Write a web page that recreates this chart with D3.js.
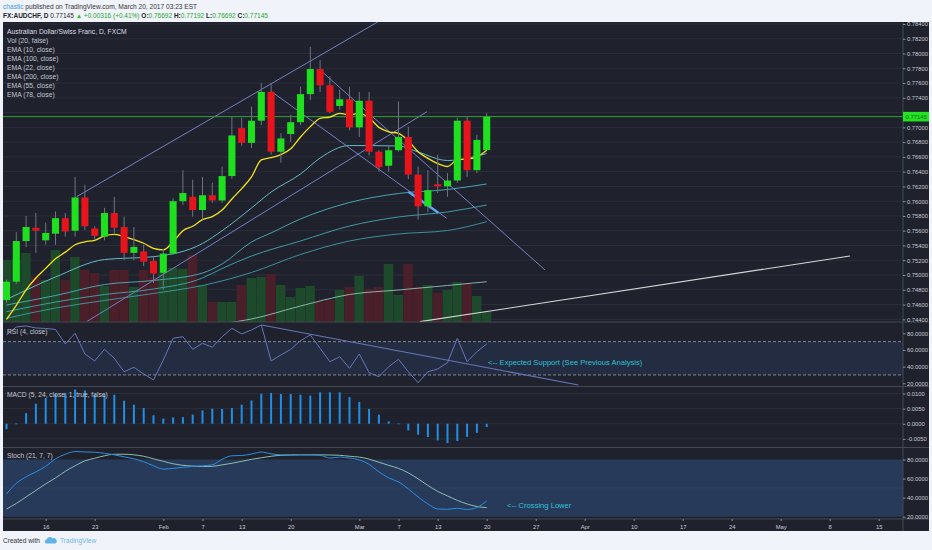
<!DOCTYPE html>
<html><head><meta charset="utf-8">
<script src="https://cdn.jsdelivr.net/npm/d3@7"></script>
<style>
body{margin:0;background:#f0f3fa;}
svg{display:block;}
text{font-family:"Liberation Sans",Arial,sans-serif;}
</style>
</head><body>
<svg id="c" width="932" height="550"></svg>
<script>
// ---------- DATA ----------
const opens  = [0.7466,0.7491,0.7546,0.7564,0.7547,0.7556,0.7577,0.7560,0.7605,0.7563,0.7552,0.7584,0.7565,0.7530,0.7532,0.7519,0.7503,0.7529,0.7600,0.7606,0.7588,0.7608,0.7601,0.7634,0.7699,0.7679,0.7709,0.7748,0.7667,0.7691,0.7707,0.7745,0.7779,0.7757,0.7729,0.7738,0.7700,0.7736,0.7667,0.7648,0.7669,0.7687,0.7636,0.7593,0.7623,0.7620,0.7628,0.7709,0.7642,0.76692];
const highs  = [0.7494,0.7558,0.7580,0.7584,0.7571,0.7586,0.7584,0.7633,0.7622,0.7566,0.7591,0.7606,0.7579,0.7565,0.7541,0.7525,0.7535,0.7604,0.7642,0.7629,0.7633,0.7625,0.7647,0.7714,0.7713,0.7728,0.7760,0.7760,0.7692,0.7717,0.7755,0.7809,0.7791,0.7769,0.7751,0.7755,0.7748,0.7748,0.7669,0.7676,0.7735,0.7701,0.7647,0.7642,0.7663,0.7638,0.7713,0.7714,0.7690,0.77192];
const lows   = [0.7462,0.7488,0.7538,0.7530,0.7541,0.7541,0.7552,0.7552,0.7561,0.7548,0.7547,0.7557,0.7520,0.7520,0.7512,0.7489,0.7480,0.7527,0.7595,0.7579,0.7575,0.7598,0.7598,0.7630,0.7675,0.7672,0.7703,0.7663,0.7652,0.7680,0.7703,0.7737,0.7748,0.7719,0.7724,0.7696,0.7687,0.7662,0.7640,0.7640,0.7667,0.7630,0.7575,0.7585,0.7611,0.7606,0.7625,0.7633,0.7638,0.76692];
const closes = [0.7491,0.7546,0.7565,0.7560,0.7557,0.7577,0.7559,0.7605,0.7566,0.7553,0.7584,0.7564,0.7530,0.7538,0.7518,0.7502,0.7529,0.7600,0.7611,0.7588,0.7608,0.7601,0.7634,0.7689,0.7679,0.7709,0.7748,0.7667,0.7685,0.7707,0.7745,0.7779,0.7757,0.7721,0.7738,0.7700,0.7736,0.7667,0.7646,0.7669,0.7687,0.7636,0.7593,0.7615,0.7620,0.7628,0.7709,0.7642,0.7683,0.77145];
const volumes = [62,62,69,45,42,72,42,65,52,49,36,52,52,35,52,45,49,54,53,67,37,20,20,20,37,44,45,48,37,25,34,36,20,22,32,35,46,33,35,58,27,58,35,37,29,32,40,39,26,10];

const ema10 = [0.7440,0.7459,0.7480,0.7496,0.7509,0.7522,0.7531,0.7541,0.7545,0.7547,0.7553,0.7555,0.7552,0.7548,0.7543,0.7536,0.7534,0.7545,0.7560,0.7566,0.7575,0.7579,0.7588,0.7603,0.7617,0.7633,0.7656,0.7659,0.7663,0.7671,0.7687,0.7701,0.7712,0.7714,0.7719,0.7717,0.7719,0.7713,0.7700,0.7694,0.7692,0.7682,0.7667,0.7658,0.7651,0.7647,0.7656,0.7657,0.7660,0.7669];
const ema22Idx = [0,5,10,15,20,22,25,27,30,32,35,40,42,45,49];
const ema22    = [0.74668,0.74973,0.75210,0.75248,0.75427,0.75600,0.75908,0.76124,0.76368,0.76585,0.76754,0.76748,0.76666,0.76551,0.76646];
const ema55Idx = [0,5,10,15,20,22,25,27,30,35,40,45,49];
const ema55    = [0.74594,0.74722,0.74871,0.74926,0.75027,0.75149,0.75447,0.75570,0.75759,0.75982,0.76104,0.76158,0.76233];
const ema78Idx = [0,5,10,15,20,22,25,30,35,40,45,49];
const ema78    = [0.74503,0.74634,0.74736,0.74810,0.74960,0.75088,0.75257,0.75461,0.75664,0.75786,0.75854,0.75948];
const ema100Idx = [0,5,10,15,20,25,30,35,40,45,49];
const ema100    = [0.74414,0.74553,0.74655,0.74750,0.74858,0.75034,0.75278,0.75461,0.75556,0.75603,0.75722];
const ema200Idx = [22,25,30,35,40,45,49];
const ema200    = [0.74340,0.74404,0.74580,0.74736,0.74797,0.74858,0.74909];

const rsi = [78,87.6,88.8,86.4,85.8,84.6,67.2,80,55.2,46.8,60.8,50,33.9,39.2,31.2,24,48,74,75.9,60.8,68,63.2,75.9,86,79.2,84,90,46.8,54,60.8,71.1,78,62,45.9,51.9,38,55.2,32.7,27.9,39.9,48.8,33.9,20.7,33.9,37.2,44.7,74,45.9,57.9,67.2];
const macdHist = [-0.0018,0.0001,0.0035,0.0066,0.0085,0.0099,0.0102,0.0113,0.0110,0.0096,0.0096,0.0096,0.0076,0.0063,0.0052,0.0028,0.0017,0.0021,0.0022,0.0030,0.0044,0.0050,0.0049,0.0052,0.0063,0.0077,0.0099,0.0102,0.0098,0.0098,0.0096,0.0093,0.0104,0.0104,0.0104,0.0088,0.0072,0.0049,0.0030,0.0008,0.0001,-0.0022,-0.0036,-0.0044,-0.0055,-0.0064,-0.0057,-0.0043,-0.0030,-0.0011];
const stochK = [43.9,55,61.8,67,72.8,80.7,85.5,88.4,87.9,87.6,86.5,84.9,82.8,80.7,77.6,73.4,69.9,70.7,71.8,72.8,73.4,74.4,80.2,83.9,84.2,85.7,87.8,86,84.9,84.9,84.9,84.9,84.4,81.5,82.5,81.5,79.7,74.9,67,60.7,56.5,49.2,40.7,33.4,28.1,27.8,28.8,27.6,29.7,36.5];
const stochD = [28.1,33.9,40.7,47.6,54.4,60.7,67.6,73.4,78.6,81.3,83.9,85.5,85.5,84.9,83.4,80.7,78.1,75.5,73.9,73.1,72.6,72.8,74.4,76,78.1,80.2,81.8,83.4,84.4,84.7,84.9,84.9,84.9,84.7,84.4,83.4,82.5,80.4,77.1,73.9,70.7,66,59.7,52.8,46.5,41.8,37.1,33.4,30.7,29.5];

// drawings: [barIndex, value]
const priceTrends = [
  [[7.16,0.76061],[38.1,0.78445]],
  [[8.18,0.74368],[42.9,0.77212]],
  [[32.0,0.77777],[54.95,0.75068]],
  [[27.06,0.77483],[44.92,0.75768]]
];
const highlightTrend = [[41.0,0.76129],[44.06,0.75844]];
const supportLine = [[42.2,0.74368],[86.07,0.75257]];
const rsiTrend = [[26.04,90],[58.35,18]];
const lastPrice = 0.77145;

const xTickIdx = [4,9,16,20,24,29,36,40,44,49,54,59,64,69,74,79,84,89];
const xTickLbl = ["16","23","Feb","7","13","20","Mar","7","13","20","27","Apr","10","17","24","May","8","15"];
const priceTicks = d3.range(0.744, 0.7841, 0.002);
const oscTicks = [20,40,60,80];
const macdTicks = [-0.005,0,0.005,0.01];
const legendLines = ["Australian Dollar/Swiss Franc, D, FXCM","Vol (20, false)","EMA (10, close)","EMA (100, close)","EMA (22, close)","EMA (200, close)","EMA (55, close)","EMA (78, close)"];

// ---------- LAYOUT ----------
const svg = d3.select("#c");
const L = 3, R = 903, AX = 929;
const P = {main:[22,322], rsi:[322,386.5], macd:[386.5,447.5], stoch:[447.5,519], xaxis:[519,531]};
const BG = "#1f222d";

const x = d3.scaleLinear().domain([0,49]).range([6.5,486.7]);
const yP = d3.scaleLinear().domain([0.744,0.784]).range([319.3,24.0]);
const yV = d3.scaleLinear().domain([0,100]).range([322,222]);
const yR = d3.scaleLinear().domain([20,80]).range([383.3,333.3]);
const yM = d3.scaleLinear().domain([-0.005,0.01]).range([438.9,393.5]);
const yS = d3.scaleLinear().domain([20,80]).range([516.7,459.5]);
const step = x(1)-x(0);

// background
svg.append("rect").attr("width",932).attr("height",550).attr("fill","#f0f3fa");
svg.append("rect").attr("x",L).attr("y",22).attr("width",AX-L).attr("height",509).attr("fill",BG);

// clip paths
const defs = svg.append("defs");
Object.entries(P).forEach(([k,[a,b]])=>{
  defs.append("clipPath").attr("id","clip-"+k).append("rect").attr("x",L).attr("y",a).attr("width",R-L).attr("height",b-a);
});

// header
const hdr = svg.append("g").attr("font-size",6.6).attr("fill","#333");
const h1 = hdr.append("text").attr("x",3).attr("y",9);
h1.append("tspan").attr("fill","#3d9ad8").text("chastic");
h1.append("tspan").text(" published on TradingView.com, March 20, 2017 03:23 EST");
const h2 = hdr.append("text").attr("x",3).attr("y",18.3).attr("font-size",6.5);
const G = "#26a626";
[["FX:AUDCHF, D ","#222","bold"],[" 0.77145 ","#222","normal"],["▲","#2bbf2b","normal"],[" +0.00316 (+0.41%)  ",G,"normal"],
 ["O:","#222","bold"],["0.76692 ",G,"normal"],["H:","#222","bold"],["0.77192 ",G,"normal"],["L:","#222","bold"],["0.76692 ",G,"normal"],["C:","#222","bold"],["0.77145",G,"normal"]]
 .forEach(([t,c,w])=>h2.append("tspan").attr("fill",c).attr("font-weight",w).text(t));

// ---------- MAIN PANE ----------
const gm = svg.append("g").attr("clip-path","url(#clip-main)");
gm.selectAll("line.grid").data(priceTicks).join("line")
  .attr("x1",L).attr("x2",R).attr("y1",d=>yP(d)).attr("y2",d=>yP(d))
  .attr("stroke","#2a2e3a").attr("stroke-width",1);

// volume
gm.selectAll("rect.vol").data(volumes).join("rect")
  .attr("x",(d,i)=>x(i)-step/2).attr("width",step-0.4)
  .attr("y",d=>yV(d)).attr("height",d=>yV(0)-yV(d))
  .attr("fill",(d,i)=>closes[i]>=opens[i]?"#1e4a2c":"#4a1f29");

// support & EMA200
const lineP = d3.line().x(d=>x(d[0])).y(d=>yP(d[1]));
const smooth = d3.line().x(d=>x(d[0])).y(d=>yP(d[1])).curve(d3.curveMonotoneX);
const zip = (idx,vals)=>idx.map((k,j)=>[k,vals[j]]);

gm.append("path").attr("d",smooth(zip(ema200Idx,ema200))).attr("fill","none").attr("stroke","#9fd3c6").attr("stroke-width",1).attr("opacity",0.8);
gm.append("path").attr("d",lineP(supportLine)).attr("fill","none").attr("stroke","#d6d6d6").attr("stroke-width",1.1);

// EMAs
[[ema100Idx,ema100,"#3f9aa6"],[ema78Idx,ema78,"#46a4b0"],[ema55Idx,ema55,"#4cb0bc"],[ema22Idx,ema22,"#6cc8d6"]].forEach(([idx,v,c])=>{
  gm.append("path").attr("d",smooth(zip(idx,v))).attr("fill","none").attr("stroke",c).attr("stroke-width",1).attr("opacity",0.9);
});

// trend lines
priceTrends.forEach(t=>gm.append("path").attr("d",lineP(t)).attr("fill","none").attr("stroke","#7380c2").attr("stroke-width",1));
gm.append("path").attr("d",lineP(highlightTrend)).attr("fill","none").attr("stroke","#5aa7f2").attr("stroke-width",2.4);

// last price line
gm.append("line").attr("x1",L).attr("x2",R).attr("y1",yP(lastPrice)).attr("y2",yP(lastPrice)).attr("stroke","#2fa52f").attr("stroke-width",1);

// EMA10
gm.append("path").attr("d",d3.line().x((d,i)=>x(i)).y(d=>yP(d)).curve(d3.curveMonotoneX)(ema10))
  .attr("fill","none").attr("stroke","#f2e41c").attr("stroke-width",1.3);

// candles
const cg = gm.append("g");
const up = i=>closes[i]>=opens[i];
cg.selectAll("line.wick").data(d3.range(opens.length)).join("line")
  .attr("x1",i=>x(i)).attr("x2",i=>x(i)).attr("y1",i=>yP(highs[i])).attr("y2",i=>yP(lows[i]))
  .attr("stroke","#6f7480").attr("stroke-width",1);
cg.selectAll("rect.body").data(d3.range(opens.length)).join("rect")
  .attr("x",i=>x(i)-step*0.36).attr("width",step*0.72)
  .attr("y",i=>yP(Math.max(opens[i],closes[i])))
  .attr("height",i=>Math.max(1,Math.abs(yP(opens[i])-yP(closes[i]))))
  .attr("fill",i=>up(i)?"#1fe01f":"#e8141c");

// legend
svg.append("g").selectAll("text").data(legendLines).join("text")
  .attr("x",7).attr("y",(d,i)=>34.3+i*8.95).attr("font-size",6.75)
  .attr("fill",(d,i)=>i===0?"#dcdee4":"#c4c7cf").text(d=>d);

// ---------- RSI ----------
const gr = svg.append("g").attr("clip-path","url(#clip-rsi)");
gr.append("rect").attr("x",L).attr("width",R-L).attr("y",yR(70)).attr("height",yR(30)-yR(70)).attr("fill","#2a3a5c").attr("opacity",0.45);
[70,30].forEach(v=>gr.append("line").attr("x1",L).attr("x2",R).attr("y1",yR(v)).attr("y2",yR(v)).attr("stroke","#9aa0ad").attr("stroke-dasharray","3,2").attr("stroke-width",0.8));
gr.append("path").attr("d",d3.line().x((d,i)=>x(i)).y(d=>yR(d))(rsi)).attr("fill","none").attr("stroke","#6676bb").attr("stroke-width",1);
gr.append("path").attr("d",d3.line().x(d=>x(d[0])).y(d=>yR(d[1]))(rsiTrend)).attr("fill","none").attr("stroke","#6676bb").attr("stroke-width",1.1);
svg.append("text").attr("x",7).attr("y",333.5).attr("font-size",6.7).attr("fill","#c4c7cf").text("RSI (4, close)");
svg.append("text").attr("x",488).attr("y",365).attr("font-size",7.6).attr("fill","#2cc3d3").text("<-- Expected Support (See Previous Analysis)");

// ---------- MACD ----------
const gmc = svg.append("g").attr("clip-path","url(#clip-macd)");
gmc.selectAll("line.g").data(macdTicks).join("line").attr("x1",L).attr("x2",R).attr("y1",d=>yM(d)).attr("y2",d=>yM(d)).attr("stroke","#2a2e3a");
gmc.selectAll("rect").data(macdHist).join("rect")
  .attr("x",(d,i)=>x(i)-1).attr("width",2)
  .attr("y",d=>Math.min(yM(d),yM(0))).attr("height",d=>Math.max(0.8,Math.abs(yM(d)-yM(0))))
  .attr("fill","#1f8ee6");
svg.append("text").attr("x",7).attr("y",396.5).attr("font-size",6.7).attr("fill","#c4c7cf").text("MACD (5, 24, close, 1, true, false)");

// ---------- STOCH ----------
const gs = svg.append("g").attr("clip-path","url(#clip-stoch)");
gs.append("rect").attr("x",L).attr("width",R-L).attr("y",yS(80)).attr("height",yS(20)-yS(80)).attr("fill","#283a5a");
gs.append("line").attr("x1",L).attr("x2",R).attr("y1",yS(50)).attr("y2",yS(50)).attr("stroke","#34486a").attr("stroke-width",0.6);
gs.append("path").attr("d",d3.line().x((d,i)=>x(i)).y(d=>yS(d)).curve(d3.curveMonotoneX)(stochD)).attr("fill","none").attr("stroke","#8cbdb0").attr("stroke-width",1);
gs.append("path").attr("d",d3.line().x((d,i)=>x(i)).y(d=>yS(d)).curve(d3.curveMonotoneX)(stochK)).attr("fill","none").attr("stroke","#2b8fe0").attr("stroke-width",1);
svg.append("text").attr("x",7).attr("y",457.5).attr("font-size",6.7).attr("fill","#c4c7cf").text("Stoch (21, 7, 7)");
svg.append("text").attr("x",507).attr("y",508).attr("font-size",7.6).attr("fill","#2cc3d3").text("<-- Crossing Lower");

// ---------- separators ----------
[P.rsi[0],P.macd[0],P.stoch[0],P.xaxis[0]].forEach(yv=>svg.append("line").attr("x1",L).attr("x2",AX).attr("y1",yv).attr("y2",yv).attr("stroke","#454955").attr("stroke-width",1.2));
svg.append("line").attr("x1",R).attr("x2",R).attr("y1",22).attr("y2",531).attr("stroke","#454955").attr("stroke-width",1);

// ---------- axes ----------
function styleAxis(g){
  g.select(".domain").remove();
  g.selectAll(".tick line").attr("stroke","#8a8e98");
  g.selectAll(".tick text").attr("fill","#c8cbd2").attr("font-size",5.8).attr("font-family","Liberation Sans, Arial, sans-serif");
}
// the 0.77200 label sits behind the last-price label, so it is not drawn
const visPriceTicks = priceTicks.filter(t=>Math.abs(yP(t)-yP(lastPrice))>7);
svg.append("g").attr("transform",`translate(${R},0)`).call(d3.axisRight(yP).tickValues(visPriceTicks).tickFormat(d=>d.toFixed(5)).tickSize(2.5).tickPadding(1.5)).call(styleAxis);
svg.append("g").attr("transform",`translate(${R},0)`).call(d3.axisRight(yR).tickValues(oscTicks).tickFormat(d=>d.toFixed(4)).tickSize(2.5).tickPadding(1.5)).call(styleAxis);
svg.append("g").attr("transform",`translate(${R},0)`).call(d3.axisRight(yM).tickValues(macdTicks).tickFormat(d=>d.toFixed(4)).tickSize(2.5).tickPadding(1.5)).call(styleAxis);
svg.append("g").attr("transform",`translate(${R},0)`).call(d3.axisRight(yS).tickValues(oscTicks).tickFormat(d=>d.toFixed(4)).tickSize(2.5).tickPadding(1.5)).call(styleAxis);

// last price label
svg.append("rect").attr("x",R).attr("y",yP(lastPrice)-4.8).attr("width",AX-R).attr("height",9.6).attr("fill","#22e422");
svg.append("text").attr("x",R+2.5).attr("y",yP(lastPrice)+2.2).attr("font-size",5.9).attr("fill","#0b5e0b").text(lastPrice.toFixed(5));

// x axis
const xa = svg.append("g").attr("transform",`translate(0,${P.xaxis[0]})`)
  .call(d3.axisBottom(x).tickValues(xTickIdx).tickFormat((d,i)=>xTickLbl[i]).tickSize(2).tickPadding(3.5));
xa.select(".domain").remove();
xa.selectAll(".tick line").attr("stroke","#8a8e98");
xa.selectAll(".tick text").attr("fill","#c8cbd2").attr("font-size",5.8).attr("font-family","Liberation Sans, Arial, sans-serif");

// footer
const ft = svg.append("g");
ft.append("text").attr("x",3).attr("y",543).attr("font-size",6.6).attr("fill","#333").text("Created with");
const cx = 51, cy = 541;
ft.append("path").attr("d",`M${cx-5},${cy+2.5} a2.3,2.3 0 0 1 0.8,-4.2 a3.2,3.2 0 0 1 5.8,-0.8 a2.3,2.3 0 0 1 2.6,5 z`).attr("fill","#5fb3e6");
ft.append("text").attr("x",60).attr("y",543).attr("font-size",6.6).attr("fill","#6cb8ea").text("TradingView");
</script>
</body></html>
